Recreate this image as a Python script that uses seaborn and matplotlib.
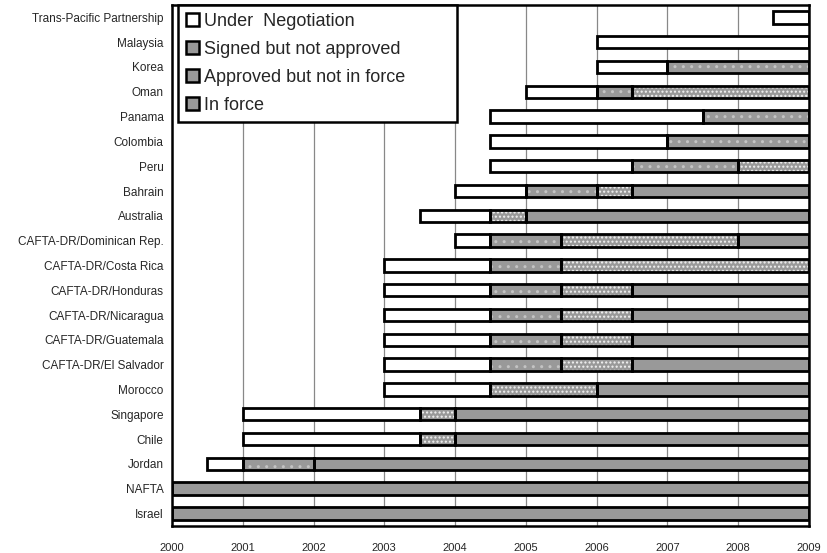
import numpy as np
import matplotlib
matplotlib.use("Agg")
import matplotlib.pyplot as plt
import matplotlib.patches as mpatches
import seaborn as sns

# ------------------------------
# Data (top to bottom), milestone years
# ------------------------------
agreements = ["Trans-Pacific Partnership", "Malaysia", "Korea", "Oman", "Panama",
              "Colombia", "Peru", "Bahrain", "Australia", "CAFTA-DR/Dominican Rep.",
              "CAFTA-DR/Costa Rica", "CAFTA-DR/Honduras", "CAFTA-DR/Nicaragua",
              "CAFTA-DR/Guatemala", "CAFTA-DR/El Salvador", "Morocco", "Singapore",
              "Chile", "Jordan", "NAFTA", "Israel"]
nan = np.nan
negotiation = [2008.5, 2006, 2006, 2005, 2004.5, 2004.5, 2004.5, 2004, 2003.5, 2004,
               2003, 2003, 2003, 2003, 2003, 2003, 2001, 2001, 2000.5, nan, nan]
signed = [nan, nan, 2007, 2006, 2007.5, 2007, 2006.5, 2005, nan, 2004.5,
          2004.5, 2004.5, 2004.5, 2004.5, 2004.5, nan, nan, nan, 2001, nan, nan]
approved = [nan, nan, nan, 2006.5, nan, nan, 2008, 2006, 2004.5, 2005.5,
            2005.5, 2005.5, 2005.5, 2005.5, 2005.5, 2004.5, 2003.5, 2003.5, nan, nan, nan]
in_force = [nan, nan, nan, nan, nan, nan, nan, 2006.5, 2005, 2008,
            nan, 2006.5, 2006.5, 2006.5, 2006.5, 2006, 2004, 2004, 2002, 2000, 2000]
years = list(range(2000, 2010))
end_year = 2009

stages = ["Under  Negotiation", "Signed but not approved", "Approved but not in force", "In force"]
gray = "#999999"
fills = ["white", gray, gray, gray]
hatches = [None, "..", "....", None]
hatch_colors = ["white", "#c4c4c4", "#f2f2f2", "white"]

# ------------------------------
# Plot
# ------------------------------
sns.set_style("white")
plt.rcParams["font.family"] = ["Liberation Sans", "DejaVu Sans"]
plt.rcParams["hatch.linewidth"] = 1.0

fig = plt.figure(figsize=(8.27, 5.53), dpi=100)
ax = fig.add_axes([0.208, 0.049, 0.770, 0.942])

n = len(agreements)
ypos = np.arange(n)[::-1]
milestones = np.array([negotiation, signed, approved, in_force], dtype=float)

for i in range(n):
    row = milestones[:, i]
    for s in range(4):
        start = row[s]
        if np.isnan(start):
            continue
        later = row[s + 1:]
        later = later[~np.isnan(later)]
        stop = later[0] if len(later) else end_year
        # fill and hatch
        ax.barh(ypos[i], stop - start, left=start, height=0.5, color=fills[s],
                edgecolor=hatch_colors[s], linewidth=0, hatch=hatches[s], zorder=2)
        # outline
        ax.barh(ypos[i], stop - start, left=start, height=0.5, fill=False,
                edgecolor="black", linewidth=2, zorder=3)

ax.set_xlim(2000, 2009)
ax.set_ylim(-0.5, n - 0.5)
ax.set_xticks(years)
ax.set_xticklabels([str(y) for y in years], fontsize=8)
ax.set_yticks(ypos)
ax.set_yticklabels(agreements, fontsize=8.5)
ax.set_yticks(np.arange(-0.5, n, 1.0), minor=True)
ax.tick_params(axis="x", length=0, pad=12)
ax.tick_params(axis="y", which="major", length=0, pad=6)
ax.tick_params(axis="y", which="minor", direction="in", length=3, color="#888888")
ax.grid(axis="x", color="#888888", linewidth=0.9, zorder=0)
ax.set_axisbelow(True)
for sp in ax.spines.values():
    sp.set_linewidth(1.8)
    sp.set_color("black")

handles = []
for s in range(4):
    handles.append(mpatches.Patch(facecolor=fills[s], edgecolor="black", linewidth=1.8,
                                  label=stages[s]))
leg = ax.legend(handles=handles, loc="upper left",
                bbox_to_anchor=(0.009, 0.0, 0.438, 1.0), mode="expand",
                fontsize=13, frameon=True, fancybox=False, framealpha=1,
                edgecolor="black", handlelength=0.7, handleheight=0.7,
                handletextpad=0.3, labelspacing=0.6, borderpad=0.45,
                borderaxespad=0)
leg.get_frame().set_linewidth(1.8)
leg.set_zorder(5)

fig.savefig("out.png", dpi=100)
